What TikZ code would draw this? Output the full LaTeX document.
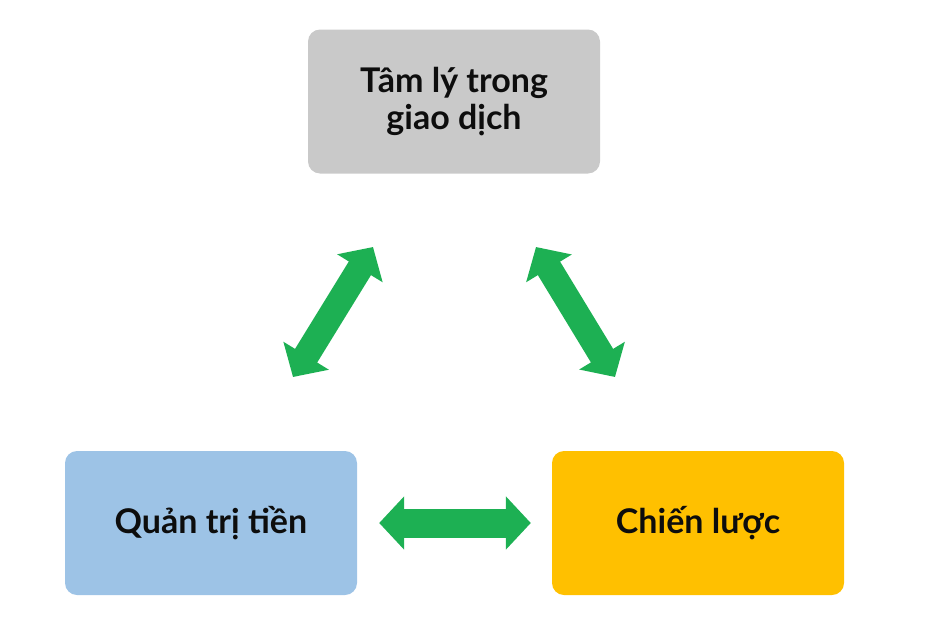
\documentclass[tikz,border=0pt]{standalone}
\usepackage{fontspec}
\setmainfont{Lato}
\usepackage{tikz}
\usetikzlibrary{arrows.meta,positioning,calc}
\usepackage{xcolor}

\definecolor{boxgray}{HTML}{C9C9C9}
\definecolor{boxblue}{HTML}{9DC3E6}
\definecolor{boxorange}{HTML}{FFC000}
\definecolor{arrowgreen}{HTML}{1DB053}

\begin{document}
\begin{tikzpicture}[x=1pt, y=-1pt,
  topic/.style={rounded corners=12pt, minimum width=292pt, minimum height=144pt,
    align=center, font=\fontsize{34}{37}\selectfont\bfseries, text=black!95},
  link/.style={draw=arrowgreen, line width=#1,
    {Triangle[length=25pt,width=52pt]}-{Triangle[length=25pt,width=52pt]}},
  link/.default=26pt]
  \useasboundingbox (0,0) rectangle (938,632);

  % the three topics
  \node[topic, fill=boxgray] (mind) at (454,101.5) {Tâm lý trong\\giao dịch};
  \node[topic, fill=boxblue] (money) at (211,523) {Quản trị tiền};
  \node[topic, fill=boxorange] (plan) at (698,523) {Chiến lược};

  % free ends of the slanted arrows
  \coordinate (ml) at (373,247);
  \coordinate (lm) at (293,377);
  \coordinate (mr) at (536,247);
  \coordinate (rm) at (615,377);

  \draw[link] (lm) -- (ml);
  \draw[link] (mr) -- (rm);
  \draw[link=29pt] ($(money.east)+(22,0)$) -- ($(plan.west)+(-21,0)$);
\end{tikzpicture}
\end{document}
